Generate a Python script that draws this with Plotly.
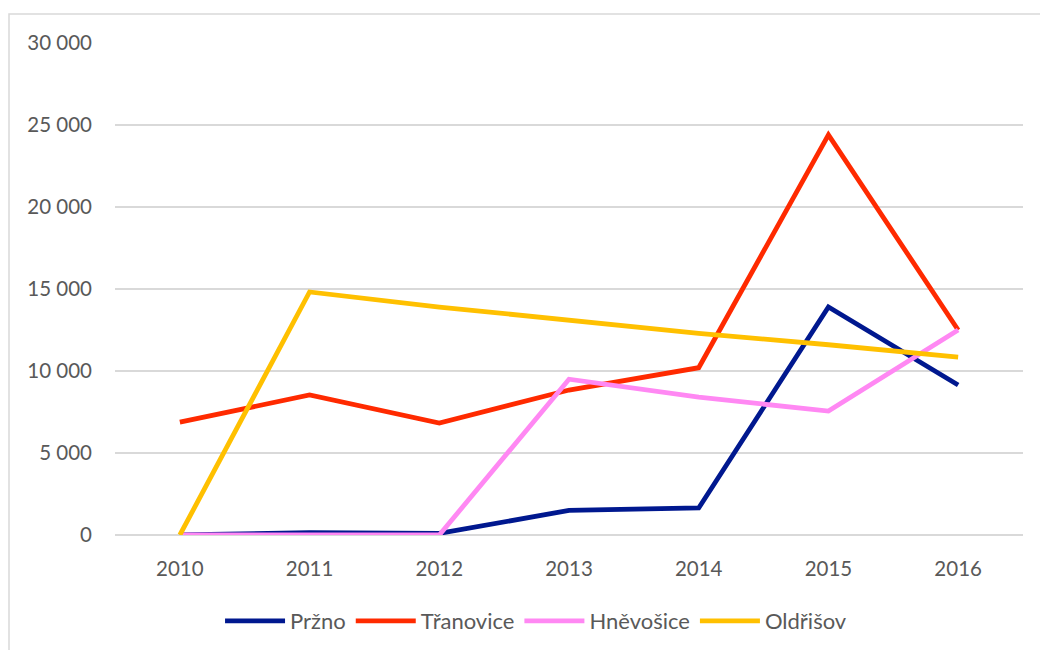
import plotly.graph_objects as go

years = ["2010", "2011", "2012", "2013", "2014", "2015", "2016"]

przno = [0, 150, 100, 1500, 1650, 13900, 9150]
tranovice = [6880, 8540, 6830, 8840, 10200, 24400, 12500]
hnevosice = [0, 0, 0, 9500, 8400, 7560, 12500]
oldrisov = [0, 14820, 13900, 13100, 12300, 11600, 10850]

series = [
    ("Pržno", przno, "#00188F"),
    ("Třanovice", tranovice, "#FF2A00"),
    ("Hněvošice", hnevosice, "#FF88F3"),
    ("Oldřišov", oldrisov, "#FFC000"),
]

y_ticks = [0, 5000, 10000, 15000, 20000, 25000, 30000]

fig = go.Figure()
for name, vals, color in series:
    fig.add_trace(go.Scatter(
        x=years, y=vals, name=name, mode="lines",
        line=dict(color=color, width=4.8, shape="linear"),
    ))

font = dict(family="Lato, 'Open Sans', sans-serif", color="#595959", size=20.5)

fig.update_layout(
    width=1040, height=650,
    margin=dict(l=115, r=17, t=43, b=115, autoexpand=False),
    paper_bgcolor="white", plot_bgcolor="white",
    separators=", ",
    font=font,
    showlegend=True,
    legend=dict(
        orientation="h", x=0.4637, xanchor="center", y=-0.175, yanchor="middle",
        font=dict(size=22, color="#595959"), itemwidth=60, tracegroupgap=0,
    ),
    xaxis=dict(
        type="category", range=[-0.5, 6.5], showgrid=False, zeroline=False,
        showline=False, ticks="", tickfont=dict(size=20.5), ticklabelstandoff=19,
        automargin=False,
    ),
    yaxis=dict(
        range=[0, 30000], tickvals=y_ticks, tickformat=",d",
        showgrid=True, gridcolor="#D9D9D9", gridwidth=1.5, zeroline=True,
        zerolinecolor="#D9D9D9", zerolinewidth=1.5, showline=False, ticks="",
        tickfont=dict(size=20.5), ticklabelstandoff=22, automargin=False,
    ),
    shapes=[
        dict(type="rect", xref="paper", yref="paper",
             x0=(9 - 115) / 908, x1=1.1, y0=-0.5, y1=(535.5 - 14.5) / 492,
             line=dict(color="#D9D9D9", width=1.5), fillcolor="rgba(0,0,0,0)",
             layer="below"),
    ],
)

fig.write_html("out.html")
